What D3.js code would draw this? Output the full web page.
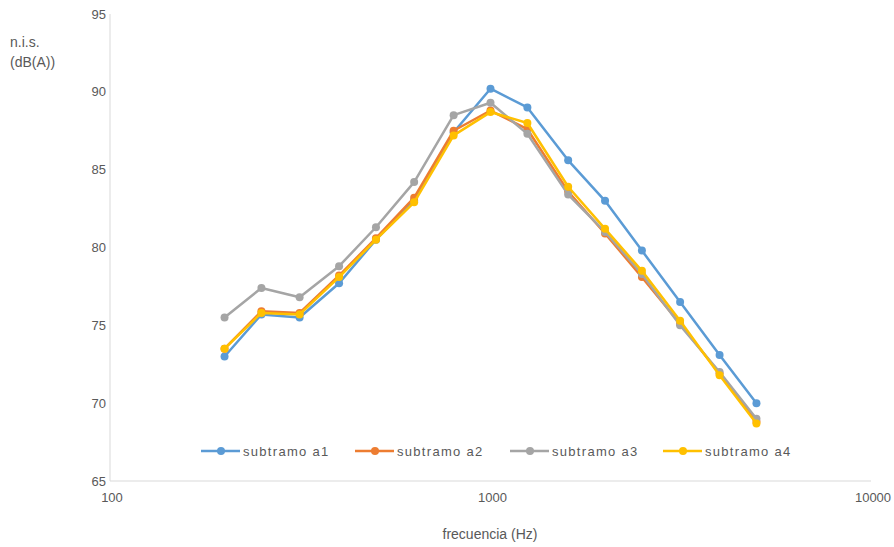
<!DOCTYPE html>
<html>
<head>
<meta charset="utf-8">
<script src="https://cdn.jsdelivr.net/npm/d3@7"></script>
<style>
  html, body { margin: 0; padding: 0; background: #fff; }
  svg { display: block; font-family: "Liberation Sans", Arial, sans-serif; }
</style>
</head>
<body>
<svg id="chart" width="894" height="547"></svg>
<script>
// Third-octave band centre frequencies (Hz)
const frequencies = [200, 250, 315, 400, 500, 630, 800, 1000, 1250, 1600, 2000, 2500, 3150, 4000, 5000];

// Sound level per band, dB(A)
const subtramoA1 = [73.0, 75.7, 75.5, 77.7, 80.5, 83.0, 87.4, 90.2, 89.0, 85.6, 83.0, 79.8, 76.5, 73.1, 70.0];
const subtramoA2 = [73.5, 75.9, 75.8, 78.2, 80.6, 83.2, 87.5, 88.8, 87.6, 83.6, 80.9, 78.1, 75.1, 71.9, 68.8];
const subtramoA3 = [75.5, 77.4, 76.8, 78.8, 81.3, 84.2, 88.5, 89.3, 87.3, 83.4, 81.0, 78.3, 75.0, 72.0, 69.0];
const subtramoA4 = [73.5, 75.8, 75.7, 78.1, 80.5, 82.9, 87.2, 88.7, 88.0, 83.9, 81.2, 78.5, 75.3, 71.8, 68.7];

const seriesNames = ["subtramo a1", "subtramo a2", "subtramo a3", "subtramo a4"];
const seriesColors = ["#5B9BD5", "#ED7D31", "#A5A5A5", "#FFC000"];
const seriesValues = [subtramoA1, subtramoA2, subtramoA3, subtramoA4];

const xTicks = [100, 1000, 10000];
const yTicks = [65, 70, 75, 80, 85, 90, 95];

const svg = d3.select("#chart");

const x = d3.scaleLog().domain([100, 10000]).range([110, 871]);
const y = d3.scaleLinear().domain([65, 95]).range([481, 14]);

const textColor = "#595959";
const axisColor = "#D9D9D9";

// Axis lines
svg.append("line")
  .attr("x1", x(100)).attr("x2", x(10000))
  .attr("y1", y(65)).attr("y2", y(65))
  .attr("stroke", axisColor).attr("stroke-width", 1);
svg.append("line")
  .attr("x1", x(100)).attr("x2", x(100))
  .attr("y1", y(65)).attr("y2", y(95))
  .attr("stroke", axisColor).attr("stroke-width", 1);

// Y tick labels
svg.append("g").selectAll("text")
  .data(yTicks)
  .join("text")
  .attr("x", 106)
  .attr("y", d => y(d))
  .attr("dy", "0.35em")
  .attr("text-anchor", "end")
  .attr("font-size", 13)
  .attr("fill", textColor)
  .text(d => d);

// X tick labels
svg.append("g").selectAll("text")
  .data(xTicks)
  .join("text")
  .attr("x", d => x(d) + 2)
  .attr("y", 497)
  .attr("dy", "0.35em")
  .attr("text-anchor", "middle")
  .attr("font-size", 13)
  .attr("fill", textColor)
  .text(d => d);

// Axis titles
svg.append("text")
  .attr("x", 490).attr("y", 534).attr("dy", "0.35em")
  .attr("text-anchor", "middle")
  .attr("font-size", 14)
  .attr("fill", textColor)
  .text("frecuencia (Hz)");

const yTitle = svg.append("text")
  .attr("font-size", 14)
  .attr("fill", textColor);
yTitle.append("tspan").attr("x", 10).attr("y", 47).text("n.i.s.");
yTitle.append("tspan").attr("x", 10).attr("y", 67).text("(dB(A))");

// Series lines and markers
const line = d3.line()
  .x((d, i) => x(frequencies[i]))
  .y(d => y(d));

seriesValues.forEach((vals, s) => {
  const g = svg.append("g");
  g.append("path")
    .datum(vals)
    .attr("fill", "none")
    .attr("stroke", seriesColors[s])
    .attr("stroke-width", 2.5)
    .attr("stroke-linejoin", "round")
    .attr("d", line);
  g.selectAll("circle")
    .data(vals)
    .join("circle")
    .attr("cx", (d, i) => x(frequencies[i]))
    .attr("cy", d => y(d))
    .attr("r", 4)
    .attr("fill", seriesColors[s]);
});

// Legend
const legendX = [201, 355, 510, 663];
const legend = svg.append("g");
seriesNames.forEach((name, s) => {
  const lx = legendX[s], ly = 451;
  legend.append("line")
    .attr("x1", lx).attr("x2", lx + 39)
    .attr("y1", ly).attr("y2", ly)
    .attr("stroke", seriesColors[s]).attr("stroke-width", 2.5);
  legend.append("circle")
    .attr("cx", lx + 20).attr("cy", ly).attr("r", 4)
    .attr("fill", seriesColors[s]);
  legend.append("text")
    .attr("x", lx + 42).attr("y", ly).attr("dy", "0.35em")
    .attr("font-size", 13)
    .attr("letter-spacing", 1.3)
    .attr("fill", textColor)
    .text(name);
});
</script>
</body>
</html>
